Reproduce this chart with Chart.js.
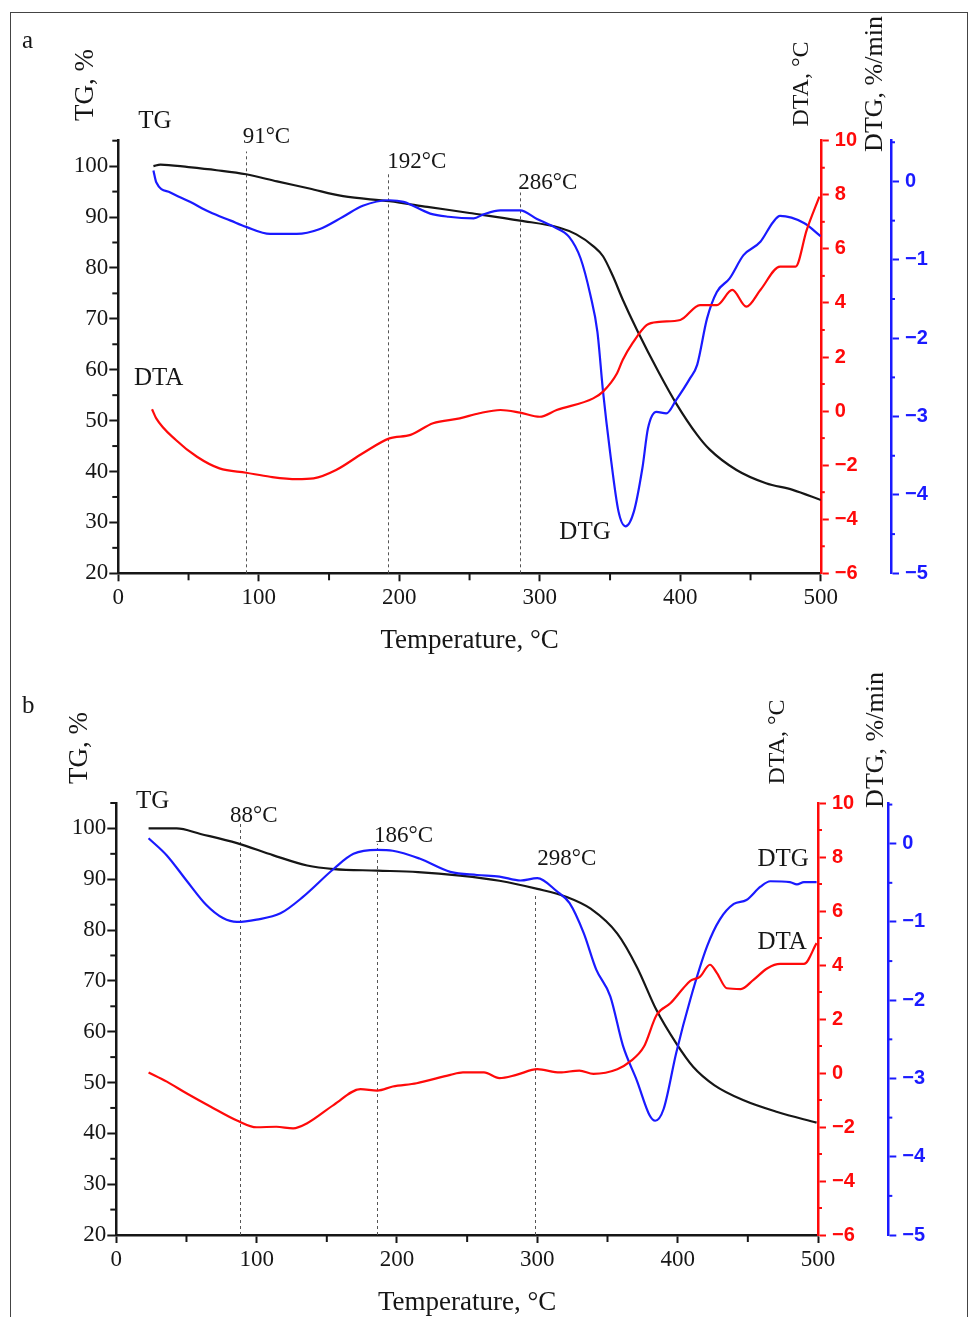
<!DOCTYPE html>
<html>
<head>
<meta charset="utf-8">
<script src="https://cdn.jsdelivr.net/npm/chart.js@4.4.1/dist/chart.umd.min.js"></script>
<style>
  html, body { margin: 0; padding: 0; background: #fff; }
  #page { position: relative; width: 969px; height: 1317px; overflow: hidden; }
  #frame { position: absolute; left: 10px; top: 12px; width: 956px; height: 1400px; border: 1px solid #444; }
  canvas { position: absolute; left: 0; }
</style>
</head>
<body>
<div id="page">
  <div id="frame"></div>
  <canvas id="chartA" width="969" height="660" style="top:0"></canvas>
  <canvas id="chartB" width="969" height="662" style="top:660px"></canvas>
</div>
<script>
// ---- panel a ----
const tgTempA = [25, 30, 50, 70, 91, 113, 136, 160, 193, 220, 250, 286, 314, 326, 338, 345, 352, 359, 369, 385, 397, 412, 421, 440, 461, 480, 500];
const tgA = [100.0, 100.3, 99.8, 99.2, 98.4, 97.0, 95.6, 94.1, 93.1, 92.0, 90.8, 89.3, 87.9, 86.6, 84.3, 82.3, 78.4, 73.8, 67.9, 59.3, 53.4, 47.2, 44.3, 40.3, 37.7, 36.4, 34.4];

const dtgTempA = [25, 27, 37, 51, 65, 80, 91, 108, 127, 143, 160, 174, 193, 203, 222, 235, 253, 260, 272, 286, 298, 310, 321, 329, 336, 341, 345, 350, 356, 361, 367, 373, 377, 383, 390, 397, 407, 412, 419, 426, 435, 445, 457, 466, 471, 488, 500];
const dtgA = [0.14, -0.01, -0.14, -0.26, -0.39, -0.50, -0.58, -0.67, -0.67, -0.61, -0.45, -0.31, -0.24, -0.26, -0.41, -0.45, -0.47, -0.42, -0.37, -0.37, -0.48, -0.58, -0.71, -0.98, -1.45, -1.92, -2.68, -3.45, -4.21, -4.40, -4.21, -3.66, -3.15, -2.94, -2.96, -2.79, -2.51, -2.34, -1.75, -1.41, -1.24, -0.94, -0.77, -0.52, -0.44, -0.53, -0.70];

const dtaTempA = [24, 27, 41, 56, 72, 91, 108, 127, 139, 155, 174, 193, 208, 224, 243, 257, 272, 286, 300, 312, 338, 345, 355, 359, 366, 376, 385, 400, 414, 426, 437, 447, 457, 471, 482, 490, 499];
const dtaA = [0.07, -0.27, -1.07, -1.69, -2.12, -2.28, -2.43, -2.52, -2.49, -2.18, -1.56, -1.01, -0.88, -0.45, -0.27, -0.08, 0.04, -0.06, -0.21, 0.04, 0.47, 0.72, 1.40, 1.89, 2.51, 3.18, 3.30, 3.37, 3.92, 3.92, 4.48, 3.86, 4.48, 5.34, 5.34, 6.70, 7.93];

const peaksA = [91, 192, 286];

// ---- panel b ----
const tgTempB = [23, 43, 60, 86, 112, 136, 155, 186, 215, 245, 273, 300, 321, 338, 357, 371, 385, 399, 411, 426, 447, 471, 499];
const tgB = [100.0, 100.0, 98.9, 97.1, 94.7, 92.7, 92.0, 91.7, 91.4, 90.7, 89.7, 88.1, 86.5, 84.2, 79.3, 72.7, 64.2, 57.7, 53.1, 49.5, 46.5, 44.2, 42.1];

const dtgTempB = [23, 36, 50, 64, 76, 86, 100, 117, 133, 155, 169, 186, 197, 216, 238, 257, 273, 288, 300, 314, 323, 333, 342, 352, 361, 371, 380, 384, 390, 399, 409, 421, 430, 440, 449, 459, 466, 480, 485, 490, 499];
const dtgB = [0.07, -0.15, -0.47, -0.78, -0.95, -1.00, -0.97, -0.89, -0.68, -0.32, -0.13, -0.08, -0.09, -0.19, -0.36, -0.40, -0.42, -0.47, -0.44, -0.61, -0.76, -1.14, -1.61, -1.95, -2.58, -3.03, -3.47, -3.54, -3.39, -2.67, -1.99, -1.31, -0.97, -0.77, -0.72, -0.55, -0.48, -0.49, -0.52, -0.49, -0.49];

const dtaTempB = [23, 36, 50, 67, 86, 100, 114, 126, 136, 155, 174, 186, 197, 214, 238, 247, 262, 273, 285, 300, 316, 330, 340, 357, 366, 376, 385, 395, 404, 409, 416, 423, 428, 435, 445, 454, 464, 473, 490, 499];
const dtaB = [0.02, -0.32, -0.75, -1.24, -1.76, -2.01, -1.99, -2.05, -1.86, -1.18, -0.60, -0.65, -0.50, -0.38, -0.07, 0.02, 0.02, -0.19, -0.07, 0.14, 0.02, 0.09, -0.03, 0.14, 0.42, 0.98, 2.15, 2.59, 3.14, 3.41, 3.57, 4.01, 3.70, 3.14, 3.11, 3.45, 3.88, 4.04, 4.04, 4.81];

const peaksB = [88, 186, 298];

// ---- axes ----
const tempTicks = { min: 0, max: 500, step: 50 };
const tgTicks = { min: 20, max: 105, step: 5 };
const dtaTicks = { min: -6, max: 10, step: 1 };
const dtgTicks = { min: -5, max: 0.52, step: 0.5 };

const SERIF = 'Liberation Serif';
const SANS = 'Liberation Sans';
const INK = '#161616';
const RED = '#ff0a0a';
const BLUE = '#1a1aff';
const NONE = 'rgba(0,0,0,0)';

const fmt = v => (v < 0 ? '\u2212' + Math.abs(v) : String(v));
// major ticks get the axis colour, unlabeled ones are drawn shorter by the plugin
const majorOnly = color => c => (c.tick && c.tick.label === '' ? NONE : color);

// Draws the dashed peak markers, short minor ticks, curve names, panel letter and axis titles
const decorPlugin = {
  id: 'decor',
  beforeDatasetsDraw(chart, args, opts) {
    const { ctx, scales: { x, y } } = chart;
    ctx.save();
    ctx.strokeStyle = '#555';
    ctx.lineWidth = 1;
    ctx.setLineDash([3, 3]);
    opts.peaks.forEach((t, i) => {
      const px = Math.round(x.getPixelForValue(t)) + 0.5;
      ctx.beginPath();
      ctx.moveTo(px, y.getPixelForValue(tgTicks.min));
      ctx.lineTo(px, y.getPixelForValue(opts.peakTops[i]));
      ctx.stroke();
    });
    ctx.restore();
  },
  afterDraw(chart, args, opts) {
    const { ctx, scales: { x, y } } = chart;
    ctx.save();

    // minor ticks
    ctx.lineWidth = 2;
    opts.minorTicks.forEach(([id, len]) => {
      const s = chart.scales[id];
      ctx.strokeStyle = s.options.border.color;
      s.ticks.forEach(t => {
        if (t.label !== '') return;
        ctx.beginPath();
        if (s.isHorizontal()) {
          const px = s.getPixelForValue(t.value);
          ctx.moveTo(px, s.top);
          ctx.lineTo(px, s.top + len);
        } else {
          const py = s.getPixelForValue(t.value);
          const x0 = s.position === 'left' ? s.right : s.left;
          ctx.moveTo(x0, py);
          ctx.lineTo(x0 + (s.position === 'left' ? -len : len), py);
        }
        ctx.stroke();
      });
    });

    ctx.fillStyle = INK;
    ctx.textBaseline = 'middle';
    ctx.textAlign = 'left';

    ctx.font = `23px "${SERIF}"`;
    opts.peaks.forEach((t, i) => {
      const [lx, ly] = opts.peakLabels[i];
      ctx.fillText(t + '°C', x.getPixelForValue(lx), y.getPixelForValue(ly));
    });

    ctx.font = `25px "${SERIF}"`;
    opts.curveLabels.forEach(([text, lx, ly]) => {
      ctx.fillText(text, x.getPixelForValue(lx), y.getPixelForValue(ly));
    });

    ctx.fillText(opts.letter[0], opts.letter[1], opts.letter[2]);

    opts.titles.forEach(([text, cx, cy, size]) => {
      ctx.save();
      ctx.translate(cx, cy);
      ctx.rotate(-Math.PI / 2);
      ctx.textAlign = 'center';
      ctx.font = `${size}px "${SERIF}"`;
      ctx.fillText(text, 0, 0);
      ctx.restore();
    });
    ctx.restore();
  }
};

function buildChart(id, p) {
  const pts = (xs, ys) => xs.map((t, i) => ({ x: t, y: ys[i] }));
  const blueW = 60;
  const padRight = 969 - p.areaRight - p.redW - blueW;

  return new Chart(document.getElementById(id), {
    type: 'line',
    data: {
      datasets: [
        { label: 'DTA', data: pts(p.dtaT, p.dta), yAxisID: 'yDta', borderColor: RED },
        { label: 'DTG', data: pts(p.dtgT, p.dtg), yAxisID: 'yDtg', borderColor: BLUE },
        { label: 'TG', data: pts(p.tgT, p.tg), yAxisID: 'y', borderColor: INK }
      ]
    },
    options: {
      responsive: false,
      animation: false,
      devicePixelRatio: 1,
      layout: { padding: { top: p.top, left: 0, right: padRight, bottom: 0 } },
      elements: {
        point: { radius: 0 },
        line: { borderWidth: 2.2, cubicInterpolationMode: 'monotone', fill: false }
      },
      plugins: {
        legend: { display: false },
        tooltip: { enabled: false },
        decor: p.decor
      },
      scales: {
        x: {
          type: 'linear',
          position: 'bottom',
          min: tempTicks.min,
          max: tempTicks.max,
          afterFit: s => { s.height = p.xAxisH; },
          ticks: {
            stepSize: tempTicks.step,
            autoSkip: false,
            maxRotation: 0,
            padding: 3,
            color: INK,
            font: { family: SERIF, size: 23 },
            callback: v => (v % 100 === 0 ? String(v) : '')
          },
          grid: { drawOnChartArea: false, tickLength: 8, tickWidth: 2, color: INK, tickColor: majorOnly(INK) },
          border: { color: INK, width: 2.5 },
          title: {
            display: true,
            text: 'Temperature, °C',
            color: INK,
            font: { family: SERIF, size: 27 },
            padding: { top: 0, bottom: 3 }
          }
        },
        y: {
          type: 'linear',
          position: 'left',
          min: tgTicks.min,
          max: tgTicks.max,
          afterFit: s => { s.width = p.left; },
          ticks: {
            stepSize: tgTicks.step,
            autoSkip: false,
            padding: 1,
            color: INK,
            font: { family: SERIF, size: 23 },
            callback: v => (v % 10 === 0 ? String(v) : '')
          },
          grid: { drawOnChartArea: false, tickLength: 9, tickWidth: 2, color: INK, tickColor: majorOnly(INK) },
          border: { color: INK, width: 2.5 }
        },
        yDta: {
          type: 'linear',
          position: 'right',
          weight: 0,
          min: dtaTicks.min,
          max: dtaTicks.max,
          afterFit: s => { s.width = p.redW; },
          ticks: {
            stepSize: dtaTicks.step,
            autoSkip: false,
            padding: 6,
            color: RED,
            font: { family: SANS, size: 20, weight: 'bold' },
            callback: v => (v % 2 === 0 ? fmt(v) : '')
          },
          grid: { drawOnChartArea: false, tickLength: 8, tickWidth: 2, color: RED, tickColor: majorOnly(RED) },
          border: { color: RED, width: 2.5 }
        },
        yDtg: {
          type: 'linear',
          position: 'right',
          weight: 1,
          min: dtgTicks.min,
          max: dtgTicks.max,
          afterFit: s => { s.width = blueW; },
          ticks: {
            stepSize: dtgTicks.step,
            includeBounds: false,
            autoSkip: false,
            padding: 6,
            color: BLUE,
            font: { family: SANS, size: 20, weight: 'bold' },
            callback: v => (Number.isInteger(v) ? fmt(v) : '')
          },
          grid: { drawOnChartArea: false, tickLength: 8, tickWidth: 2, color: BLUE, tickColor: majorOnly(BLUE) },
          border: { color: BLUE, width: 2.5 }
        }
      }
    },
    plugins: [decorPlugin]
  });
}

const minorTicks = [['x', 7], ['y', 6], ['yDta', 4], ['yDtg', 4]];

buildChart('chartA', {
  tgT: tgTempA, tg: tgA, dtgT: dtgTempA, dtg: dtgA, dtaT: dtaTempA, dta: dtaA,
  top: 140.7, left: 118.3, areaRight: 820.8, redW: 70.2, xAxisH: 86.7,
  decor: {
    peaks: peaksA,
    peakTops: [102.9, 98.7, 94.8],
    peakLabels: [[88.5, 105.8], [191.5, 100.9], [284.7, 96.6]],
    curveLabels: [['TG', 14.2, 108.7], ['DTA', 11.2, 58.2], ['DTG', 313.9, 28.1]],
    letter: ['a', 22, 41],
    titles: [['TG, %', 86, 85, 27], ['DTA, °C', 802, 84, 24], ['DTG, %/min', 875, 84, 26]],
    minorTicks
  }
});

buildChart('chartB', {
  tgT: tgTempB, tg: tgB, dtgT: dtgTempB, dtg: dtgB, dtaT: dtaTempB, dta: dtaB,
  top: 143, left: 116.3, areaRight: 818, redW: 70.3, xAxisH: 87,
  decor: {
    peaks: peaksB,
    peakTops: [100.9, 97.0, 87.1],
    peakLabels: [[81, 102.5], [183.7, 98.6], [300, 93.9]],
    curveLabels: [['TG', 14, 105.3], ['DTG', 456.9, 93.9], ['DTA', 456.9, 77.6]],
    letter: ['b', 22, 46],
    titles: [['TG, %', 80, 88, 27], ['DTA, °C', 778, 82, 24], ['DTG, %/min', 876, 80, 26]],
    minorTicks
  }
});
</script>
</body>
</html>
